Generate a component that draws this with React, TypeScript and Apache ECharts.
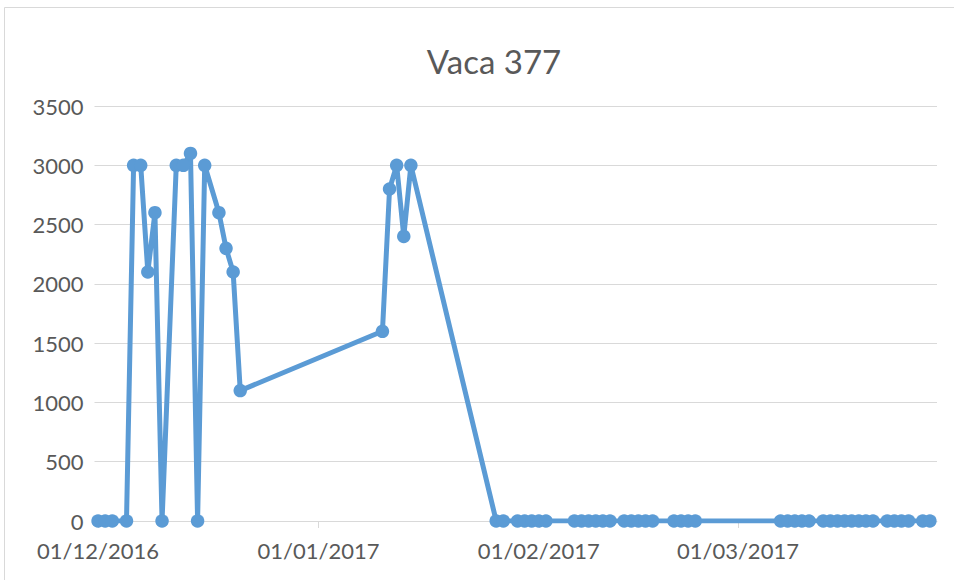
import React, { useEffect, useRef } from "react";
import * as echarts from "echarts";

const chartTitle = "Vaca 377";

const dates = [
  "2016-12-01", "2016-12-02", "2016-12-03", "2016-12-05", "2016-12-06", "2016-12-07",
  "2016-12-08", "2016-12-09", "2016-12-10", "2016-12-12", "2016-12-13", "2016-12-14",
  "2016-12-15", "2016-12-16", "2016-12-18", "2016-12-19", "2016-12-20", "2016-12-21",
  "2017-01-10", "2017-01-11", "2017-01-12", "2017-01-13", "2017-01-14",
  "2017-01-26", "2017-01-27",
  "2017-01-29", "2017-01-30", "2017-01-31", "2017-02-01", "2017-02-02",
  "2017-02-06", "2017-02-07", "2017-02-08", "2017-02-09", "2017-02-10", "2017-02-11",
  "2017-02-13", "2017-02-14", "2017-02-15", "2017-02-16", "2017-02-17",
  "2017-02-20", "2017-02-21", "2017-02-22", "2017-02-23",
  "2017-03-07", "2017-03-08", "2017-03-09", "2017-03-10", "2017-03-11",
  "2017-03-13", "2017-03-14", "2017-03-15", "2017-03-16", "2017-03-17", "2017-03-18", "2017-03-19", "2017-03-20",
  "2017-03-22", "2017-03-23", "2017-03-24", "2017-03-25",
  "2017-03-27", "2017-03-28",
];

const values = [
  0, 0, 0, 0, 3000, 3000,
  2100, 2600, 0, 3000, 3000, 3100,
  0, 3000, 2600, 2300, 2100, 1100,
  1600, 2800, 3000, 2400, 3000,
  0, 0,
  0, 0, 0, 0, 0,
  0, 0, 0, 0, 0, 0,
  0, 0, 0, 0, 0,
  0, 0, 0, 0,
  0, 0, 0, 0, 0,
  0, 0, 0, 0, 0, 0, 0, 0,
  0, 0, 0, 0,
  0, 0,
];

const monthTicks = ["2016-12-01", "2017-01-01", "2017-02-01", "2017-03-01"];
const xStart = "2016-12-01";
const xEnd = "2017-03-29";
const yTicks = [0, 500, 1000, 1500, 2000, 2500, 3000, 3500];

const DAY = 86400000;
const toTs = (s: string) => {
  const [y, m, d] = s.split("-").map(Number);
  return Date.UTC(y, m - 1, d);
};
const toDay = (s: string) => Math.round((toTs(s) - toTs(xStart)) / DAY);
const pad = (n: number) => (n < 10 ? "0" + n : "" + n);
const fmtDay = (day: number) => {
  const d = new Date(toTs(xStart) + Math.round(day) * DAY);
  return pad(d.getUTCDate()) + "/" + pad(d.getUTCMonth() + 1) + "/" + d.getUTCFullYear();
};

export default function App() {
  const ref = useRef<HTMLDivElement>(null);
  useEffect(() => {
    if (!ref.current) return;
    const chart = echarts.init(ref.current, undefined, { renderer: "svg" });
    const tickDays = monthTicks.map(toDay);
    chart.setOption({
      animation: false,
      backgroundColor: "#ffffff",
      textStyle: { fontFamily: "Lato" },
      title: {
        text: chartTitle,
        left: 489,
        top: 39,
        textAlign: "center",
        textStyle: { fontFamily: "Lato", fontSize: 33, fontWeight: "normal", color: "#595959" },
      },
      graphic: [
        {
          type: "rect",
          shape: { x: 4.5, y: 7.5, width: 1000, height: 700 },
          style: { fill: "none", stroke: "#d9d9d9", lineWidth: 1 },
          silent: true,
          z: -1,
        },
      ],
      grid: { left: 94.5, right: 17, top: 106, bottom: 59 },
      xAxis: {
        type: "value",
        min: -0.5,
        max: toDay(xEnd),
        axisLine: { show: true, lineStyle: { color: "#d9d9d9", width: 1 } },
        axisTick: { show: true, customValues: tickDays, length: 7, lineStyle: { color: "#d9d9d9" } },
        axisLabel: {
          customValues: tickDays,
          formatter: (v: number) => fmtDay(v),
          fontFamily: "Lato",
          fontSize: 22,
          color: "#595959",
          margin: 18,
        },
        splitLine: { show: false },
      },
      yAxis: {
        type: "value",
        min: yTicks[0],
        max: yTicks[yTicks.length - 1],
        interval: 500,
        axisLine: { show: false },
        axisTick: { show: false },
        axisLabel: {
          fontFamily: "Lato",
          fontSize: 22,
          color: "#595959",
          margin: 11,
          formatter: (v: number) => String(v),
        },
        splitLine: { show: true, lineStyle: { color: "#d9d9d9", width: 1 } },
      },
      series: [
        {
          type: "line",
          data: dates.map((d, i) => [toDay(d), values[i]]),
          symbol: "circle",
          symbolSize: 13.5,
          showAllSymbol: true,
          lineStyle: { color: "#5b9bd5", width: 5 },
          itemStyle: { color: "#5b9bd5", borderWidth: 0 },
        },
      ],
    });
    return () => chart.dispose();
  }, []);
  return (
    <div
      ref={ref}
      style={{ position: "absolute", left: 0, top: 0, width: 954, height: 580 }}
    />
  );
}
